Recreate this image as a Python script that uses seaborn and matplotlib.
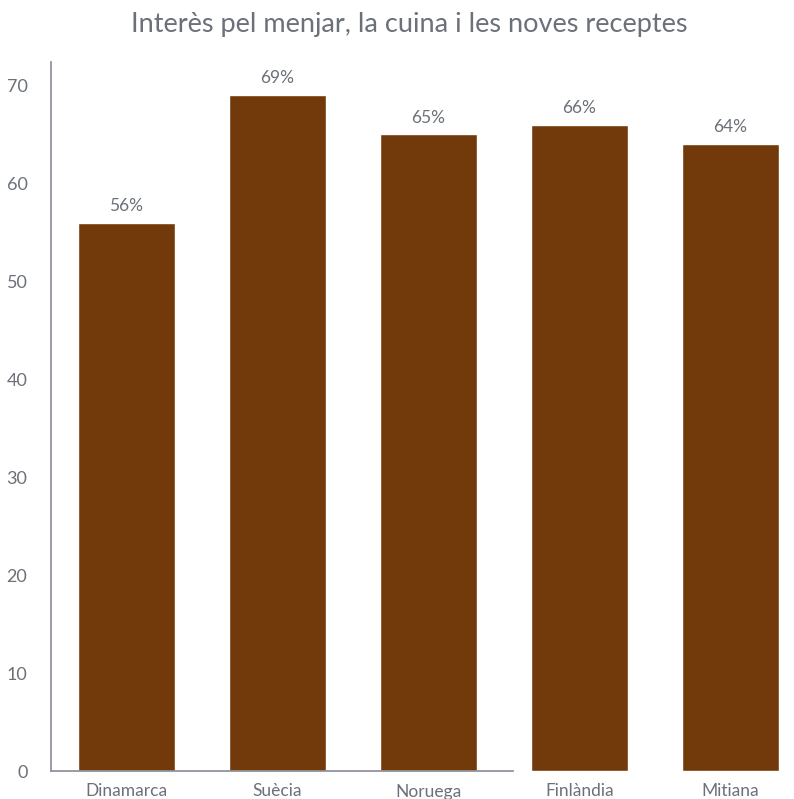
import pandas as pd
import seaborn as sns
import matplotlib.pyplot as plt

sns.set_theme(style="white")
plt.rcParams['font.family'] = ['Lato', 'DejaVu Sans']

countries = ["Dinamarca", "Suècia", "Noruega", "Finlàndia", "Mitiana"]
interest = [56, 69, 65, 66, 64]
yticks = [0, 10, 20, 30, 40, 50, 60, 70]

df = pd.DataFrame({"country": countries, "value": interest})

grey = "#6b7079"
bar_col = "#723a0a"

fig = plt.figure(figsize=(7.94, 7.99), dpi=100)
ax = fig.add_axes([51 / 794, 28 / 799, 755 / 794, 709 / 799])

sns.barplot(data=df, x="country", y="value", color=bar_col, width=0.64,
            saturation=1, ax=ax)

for p, v in zip(ax.patches, interest):
    ax.text(p.get_x() + p.get_width() / 2, v + 0.9, f"{v}%", ha="center",
            va="bottom", color=grey, fontsize=12.5)

ax.set_xlim(-0.5, 4.5)
ax.set_ylim(0, 72.4)
ax.set_yticks(yticks)
ax.set_xlabel("")
ax.set_ylabel("")
ax.tick_params(axis="x", length=0, colors=grey, labelsize=12.5, pad=9)
ax.tick_params(axis="y", length=0, colors=grey, labelsize=13, pad=17)

for s in ["top", "right"]:
    ax.spines[s].set_visible(False)
ax.spines["left"].set_color("#8c9098")
ax.spines["bottom"].set_color("#8c9098")
ax.spines["bottom"].set_bounds(-0.5, 2.56)

fig.suptitle("Interès pel menjar, la cuina i les noves receptes", x=0.515, y=0.985,
             color=grey, fontsize=19.5, va="top")

fig.savefig("out.png", dpi=100)
